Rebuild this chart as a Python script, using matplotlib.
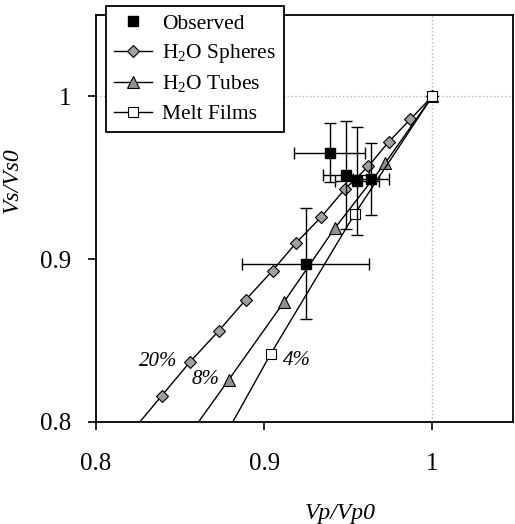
import matplotlib
matplotlib.use('Agg')
import matplotlib.pyplot as plt
from matplotlib.lines import Line2D

# model curves (last point of each runs off the axes, no marker drawn there)
spheres_x = [1.0, 0.987, 0.974, 0.962, 0.948, 0.934, 0.919, 0.905, 0.889, 0.873, 0.856, 0.839, 0.822]
spheres_y = [1.0, 0.986, 0.972, 0.957, 0.943, 0.926, 0.910, 0.893, 0.875, 0.856, 0.837, 0.816, 0.795]
tubes_x = [1.0, 0.972, 0.942, 0.912, 0.879, 0.845]
tubes_y = [1.0, 0.959, 0.919, 0.874, 0.826, 0.777]
films_x = [1.0, 0.954, 0.904, 0.870]
films_y = [1.0, 0.928, 0.842, 0.779]

# observed with error bars
obs_x = [0.939, 0.9486, 0.9551, 0.9635, 0.9246]
obs_y = [0.9654, 0.9516, 0.9479, 0.9494, 0.8972]
obs_xerr = [0.021, 0.0137, 0.013, 0.0105, 0.038]
obs_yerr = [0.018, 0.033, 0.033, 0.022, 0.034]

# porosity labels: (text, x, y)
labels = [('20%', 0.856, 0.837), ('8%', 0.879, 0.826), ('4%', 0.904, 0.842)]

plt.rcParams['font.family'] = ['Liberation Serif', 'DejaVu Serif']
plt.rcParams['mathtext.fontset'] = 'custom'
plt.rcParams['mathtext.rm'] = 'Liberation Serif'

fig = plt.figure(figsize=(5.15, 5.24), dpi=100)
ax = fig.add_axes([0.1864, 0.1947, 0.8097, 0.7767])

ax.axhline(1.0, color='#b8b8b8', lw=1, ls=':', zorder=0)
ax.axvline(1.0, color='#b8b8b8', lw=1, ls=':', zorder=0)

n = len(spheres_x)
ax.plot(spheres_x, spheres_y, color='black', lw=1, marker='D', ms=6.5, mfc='#a0a0a0', mec='black', mew=0.8,
        markevery=list(range(n - 1)), zorder=3)
n = len(tubes_x)
ax.plot(tubes_x, tubes_y, color='black', lw=1, marker='^', ms=8.5, mfc='#909090', mec='black', mew=0.8,
        markevery=list(range(n - 1)), zorder=3)
n = len(films_x)
ax.plot(films_x, films_y, color='black', lw=1, marker='s', ms=7.5, mfc='white', mec='black', mew=0.8,
        markevery=list(range(n - 1)), zorder=4)

ax.errorbar(obs_x, obs_y, xerr=obs_xerr, yerr=obs_yerr, fmt='s', color='black', ms=7.5, ecolor='black',
            elinewidth=1, capsize=4, capthick=1, zorder=5)

offsets = [(-9, 0, 'right', 'center'), (-7, 0, 'right', 'center'), (9, -5, 'left', 'center')]
for (txt, x, y), (dx, dy, ha, va) in zip(labels, offsets):
    ax.annotate(txt, (x, y), xytext=(dx, dy), textcoords='offset points', ha=ha, va=va,
                fontsize=15, style='italic')

ax.set_xlim(0.8, 1.048)
ax.set_ylim(0.8, 1.05)
ax.set_xticks([0.8, 0.9, 1.0])
ax.set_xticklabels(['0.8', '0.9', '1'])
ax.set_yticks([0.8, 0.9, 1.0])
ax.set_yticklabels(['0.8', '0.9', '1'])
ax.tick_params(axis='x', pad=16)
ax.tick_params(direction='out', length=6, width=1.2, labelsize=18)
ax.tick_params(axis='y', pad=12)
for s in ax.spines.values():
    s.set_linewidth(1.3)

ax.set_xlabel('Vp/Vp0', fontsize=17, style='italic')
ax.xaxis.set_label_coords(0.585, -0.2)
ax.set_ylabel('Vs/Vs0', fontsize=17, style='italic')
ax.yaxis.set_label_coords(-0.175, 0.595)

handles = [
    Line2D([], [], ls='none', marker='s', ms=7.5, color='black'),
    Line2D([], [], color='black', lw=1, marker='D', ms=6.5, mfc='#a0a0a0', mec='black', mew=0.8),
    Line2D([], [], color='black', lw=1, marker='^', ms=8.5, mfc='#909090', mec='black', mew=0.8),
    Line2D([], [], color='black', lw=1, marker='s', ms=7.5, mfc='white', mec='black', mew=0.8),
]
names = ['Observed', 'H$_2$O Spheres', 'H$_2$O Tubes', 'Melt Films']
leg = ax.legend(handles, names, loc='upper left', bbox_to_anchor=(0.024, 1.022), borderaxespad=0,
                fontsize=15.5, frameon=True, fancybox=False, edgecolor='black', framealpha=1,
                handlelength=1.8, borderpad=0.35, labelspacing=0.4, handletextpad=0.45)
leg.get_frame().set_linewidth(1.3)
leg.set_zorder(10)

fig.savefig('out.png', dpi=100)
